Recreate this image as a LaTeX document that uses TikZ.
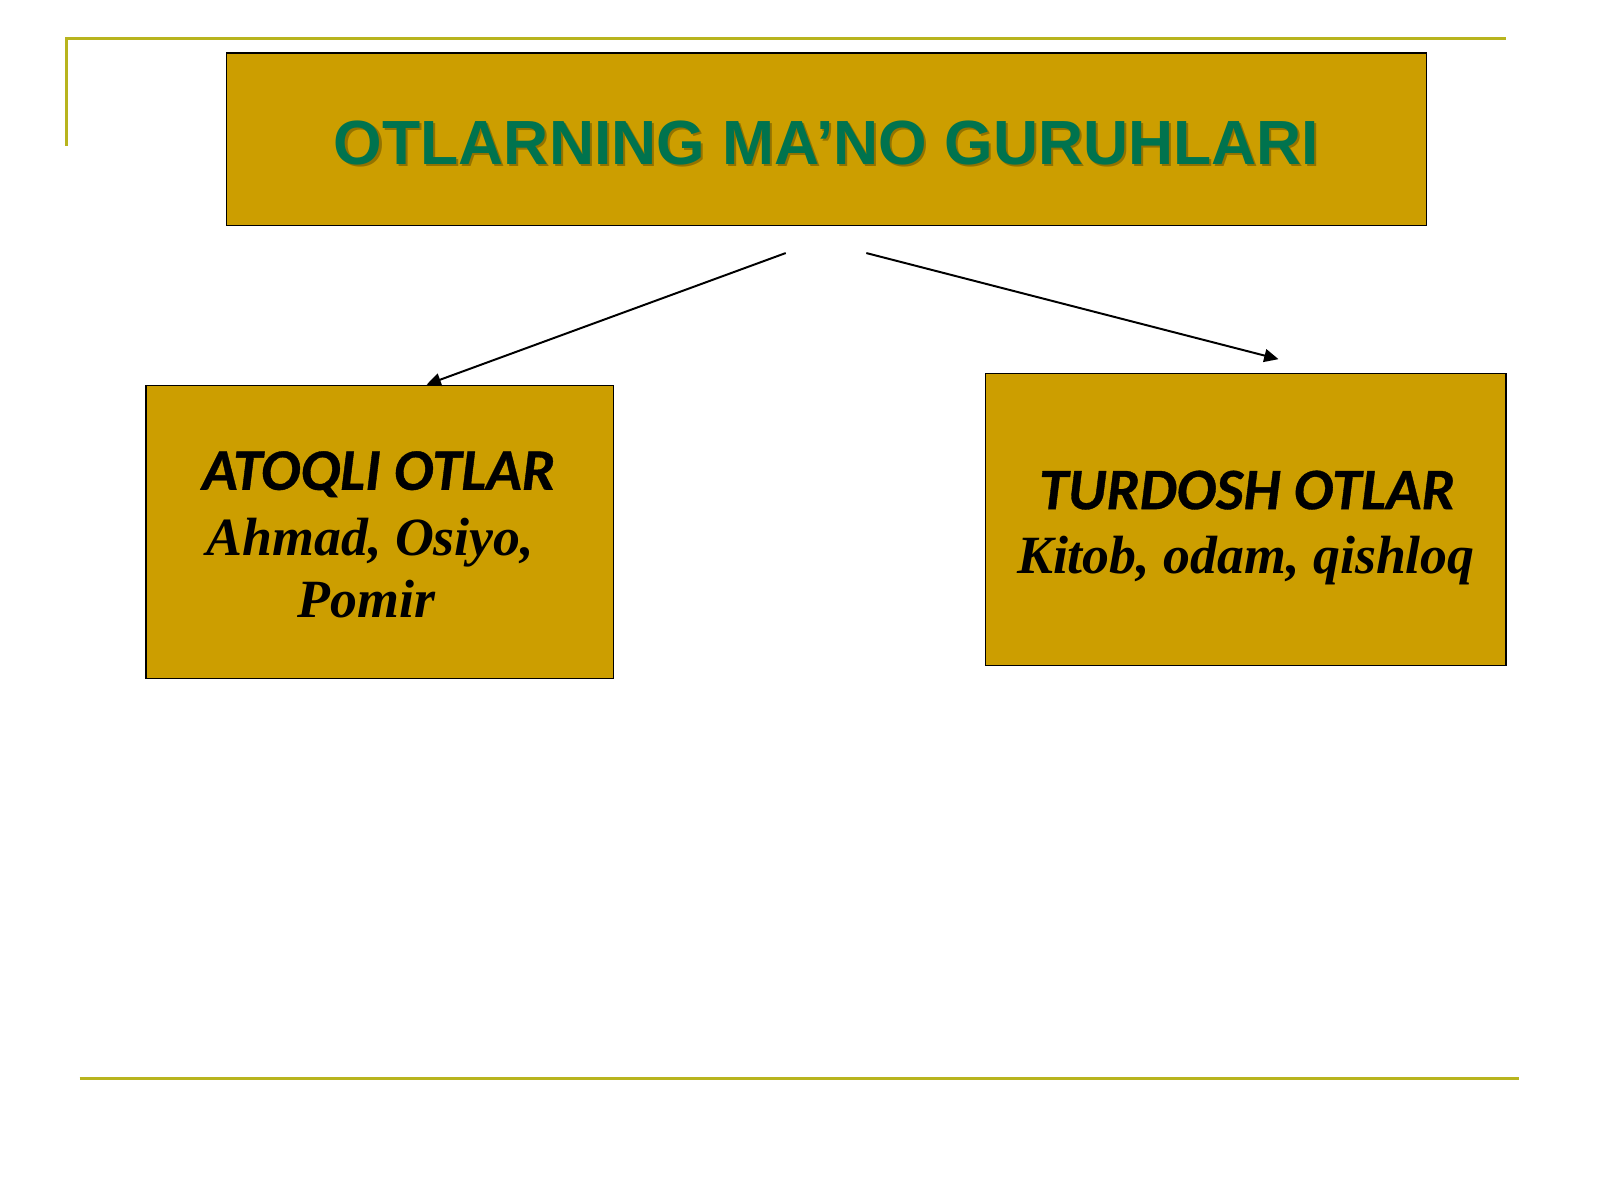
\documentclass[tikz,border=0pt]{standalone}
\usepackage{fontspec}
\setmainfont{Liberation Serif}
\newfontfamily\titlefont{Liberation Sans}
\newfontfamily\headfont[BoldItalicFeatures={FakeBold=0.6}]{Carlito}
\usetikzlibrary{arrows.meta}
\definecolor{boxgold}{RGB}{204,158,0}
\definecolor{rulecol}{RGB}{184,180,30}
\definecolor{titlegreen}{RGB}{0,115,78}
\tikzset{
  goldbox/.style={draw=black, line width=0.35pt, fill=boxgold},
  rulebar/.style={draw=rulecol, line width=0.85pt},
  conn/.style={draw=black, line width=0.55pt, -{Triangle[length=4pt,width=3.6pt]}},
  titletext/.style={anchor=base, inner sep=0pt, font=\titlefont\bfseries\fontsize{17.4}{20}\selectfont, text=titlegreen},
  headtext/.style={anchor=base, inner sep=0pt, font=\headfont\bfseries\itshape\fontsize{16.4}{20}\selectfont},
  bodytext/.style={anchor=base, inner sep=0pt, font=\bfseries\itshape\fontsize{15}{20}\selectfont}
}
\begin{document}
\begin{tikzpicture}[x=0.01cm,y=-0.01cm]
\useasboundingbox (0,0) rectangle (1568,1176);
\fill[white] (0,0) rectangle (1568,1176);
% decorative rules
\draw[rulebar] (65,143) -- (65,38) -- (1476,38);
\draw[rulebar] (78,1057) -- (1489,1057);
% boxes
\draw[goldbox] (222,52) rectangle (1398,221);
\node[inner sep=0pt] (titlebox) at (810,136.5) {};
\draw[goldbox] (143,378) rectangle (601,665);
\node[inner sep=0pt] (leftbox) at (372,521.5) {};
\draw[goldbox] (966,366) rectangle (1476,652);
\node[inner sep=0pt] (rightbox) at (1221,509) {};
% texts
\node[titletext, text=black!55!boxgold, opacity=0.5] (titleshadow) at (812,163) {OTLARNING MA’NO GURUHLARI};
\node[titletext] (title) at (810,161) {OTLARNING MA’NO GURUHLARI};
\node[headtext] (lhead) at (371,480) {ATOQLI OTLAR};
\node[bodytext] (l1) at (363,544) {Ahmad, Osiyo,};
\node[bodytext] (l2) at (359,605) {Pomir};
\node[headtext] (rhead) at (1222,499) {TURDOSH OTLAR};
\node[bodytext] (r1) at (1221,562) {Kitob, odam, qishloq};
% connectors
\coordinate (la) at (770,248);
\coordinate (lb) at (418,377);
\coordinate (ra) at (849,248);
\coordinate (rb) at (1253,352);
\draw[conn] (la) -- (lb);
\draw[conn] (ra) -- (rb);
\end{tikzpicture}
\end{document}
